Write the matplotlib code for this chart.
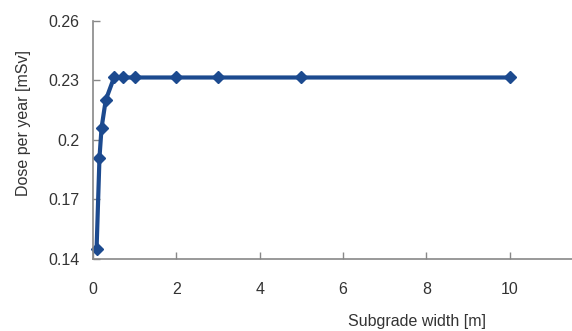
import matplotlib
matplotlib.use("Agg")
import matplotlib.pyplot as plt

plt.rcParams['font.family'] = ['Liberation Sans', 'DejaVu Sans']

# subgrade width [m] and dose per year [mSv]
width = [0.08, 0.15, 0.2, 0.3, 0.5, 0.72, 1, 2, 3, 5, 10]
dose = [0.1446, 0.191, 0.206, 0.220, 0.2314, 0.2314, 0.2314, 0.2314, 0.2314, 0.2314, 0.2314]
xticks = [0, 2, 4, 6, 8, 10]
yticks = [0.14, 0.17, 0.2, 0.23, 0.26]
ylabels = ['0.14', '0.17', '0.2', '0.23', '0.26']

fig = plt.figure(figsize=(5.72, 3.31), dpi=100)
ax = fig.add_axes([0.163, 0.219, 0.837, 0.718])

ax.plot(width, dose, color='#1c4a8f', lw=3, marker='D', ms=6.5, clip_on=False)

ax.set_xlim(0, 11.5)
ax.set_ylim(0.14, 0.26)
ax.set_xticks(xticks)
ax.set_yticks(yticks)
ax.set_yticklabels(ylabels)

for s in ['top', 'right']:
    ax.spines[s].set_visible(False)
for s in ['left', 'bottom']:
    ax.spines[s].set_color('#888888')
    ax.spines[s].set_linewidth(1.2)

ax.tick_params(direction='in', length=5, color='#888888', labelsize=11.5,
               labelcolor='#333333', width=1)
ax.tick_params(axis='x', pad=17)
ax.tick_params(axis='y', pad=10)

ax.set_ylabel('Dose per year [mSv]', fontsize=11.5, color='#333333')
ax.set_xlabel('Subgrade width [m]', fontsize=11.5, color='#333333')
ax.xaxis.set_label_coords(0.676, -0.232)
ax.yaxis.set_label_coords(-0.13, 0.57)

fig.savefig('out.png', dpi=100)
